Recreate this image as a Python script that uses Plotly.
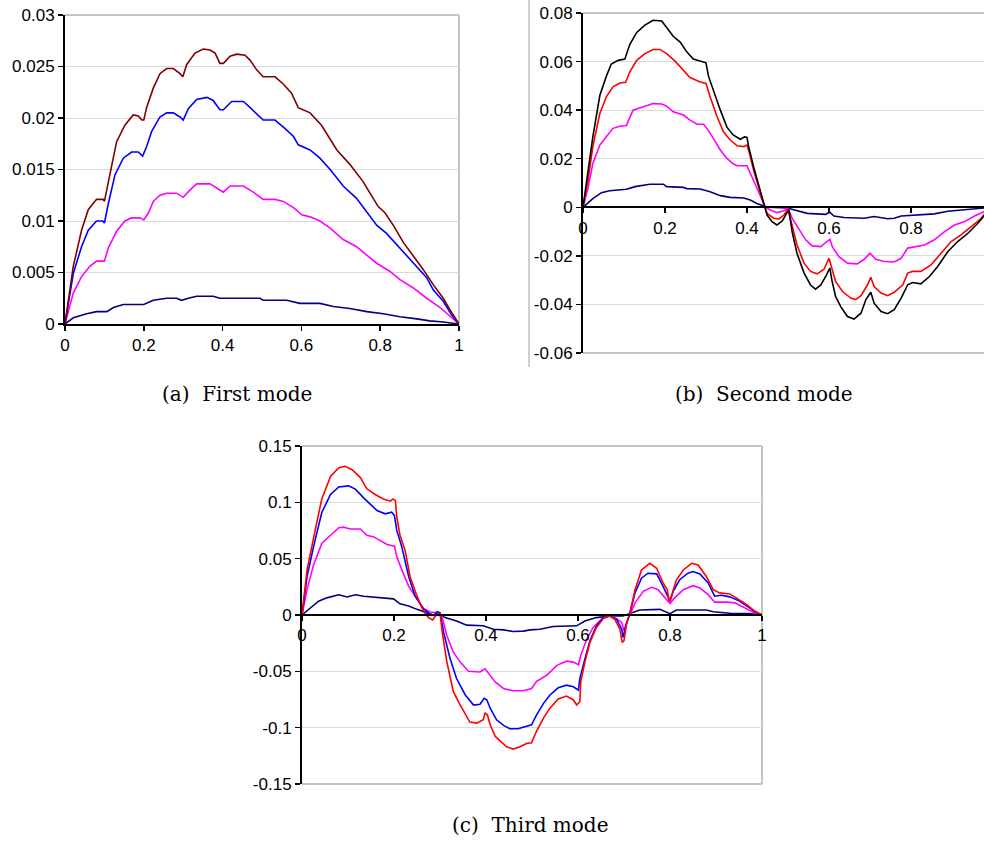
import plotly.graph_objects as go

# ---------------- Panel (a): First mode ----------------
a_dr_x = [0, 0.021, 0.042, 0.059, 0.080, 0.097, 0.100, 0.114, 0.131, 0.152, 0.173, 0.186, 0.195, 0.200, 0.207, 0.224, 0.241, 0.258, 0.275, 0.292, 0.299, 0.309, 0.330, 0.351, 0.368, 0.381, 0.393, 0.402, 0.419, 0.436, 0.457, 0.470, 0.486, 0.503, 0.533, 0.554, 0.575, 0.592, 0.622, 0.651, 0.673, 0.690, 0.723, 0.757, 0.774, 0.795, 0.812, 0.833, 0.859, 0.884, 0.909, 0.935, 0.960, 0.977, 1.0]
a_dr_y = [0, 0.0056, 0.0091, 0.0111, 0.0121, 0.0121, 0.0119, 0.0146, 0.0177, 0.0193, 0.0203, 0.0202, 0.0198, 0.0198, 0.0210, 0.0229, 0.0243, 0.0248, 0.0248, 0.0243, 0.0240, 0.0252, 0.0263, 0.0267, 0.0266, 0.0263, 0.0253, 0.0253, 0.0260, 0.0262, 0.0261, 0.0256, 0.0247, 0.0240, 0.0240, 0.0233, 0.0224, 0.0210, 0.0205, 0.0193, 0.0180, 0.0169, 0.0155, 0.0138, 0.0127, 0.0114, 0.0108, 0.0096, 0.0079, 0.0066, 0.0053, 0.0038, 0.0025, 0.0014, 0]

a_bl_x = [0, 0.021, 0.042, 0.059, 0.080, 0.096, 0.100, 0.110, 0.127, 0.148, 0.169, 0.186, 0.197, 0.207, 0.220, 0.241, 0.258, 0.275, 0.292, 0.300, 0.313, 0.334, 0.360, 0.376, 0.393, 0.402, 0.423, 0.453, 0.470, 0.503, 0.533, 0.558, 0.580, 0.592, 0.622, 0.647, 0.673, 0.706, 0.740, 0.766, 0.791, 0.816, 0.850, 0.884, 0.918, 0.935, 0.960, 0.981, 1.0]
a_bl_y = [0, 0.0049, 0.0075, 0.0091, 0.0100, 0.0100, 0.0098, 0.0117, 0.0145, 0.0161, 0.0167, 0.0167, 0.0163, 0.0172, 0.0187, 0.0201, 0.0205, 0.0205, 0.0201, 0.0198, 0.0209, 0.0218, 0.0220, 0.0217, 0.0208, 0.0208, 0.0216, 0.0216, 0.0210, 0.0198, 0.0198, 0.0190, 0.0182, 0.0174, 0.0169, 0.0161, 0.0150, 0.0134, 0.0122, 0.0109, 0.0096, 0.0088, 0.0074, 0.0059, 0.0045, 0.0033, 0.0022, 0.0009, 0]

a_mg_x = [0, 0.021, 0.042, 0.063, 0.080, 0.100, 0.110, 0.131, 0.152, 0.169, 0.190, 0.200, 0.212, 0.224, 0.241, 0.258, 0.283, 0.300, 0.317, 0.334, 0.368, 0.385, 0.402, 0.419, 0.453, 0.478, 0.503, 0.533, 0.554, 0.580, 0.601, 0.622, 0.647, 0.673, 0.706, 0.740, 0.766, 0.791, 0.825, 0.850, 0.884, 0.918, 0.952, 0.973, 1.0]
a_mg_y = [0, 0.0030, 0.0046, 0.0056, 0.0061, 0.0061, 0.0074, 0.0090, 0.0100, 0.0103, 0.0103, 0.0101, 0.0108, 0.0119, 0.0125, 0.0127, 0.0127, 0.0123, 0.0130, 0.0136, 0.0136, 0.0132, 0.0128, 0.0134, 0.0134, 0.0128, 0.0121, 0.0121, 0.0119, 0.0113, 0.0106, 0.0104, 0.0100, 0.0093, 0.0082, 0.0075, 0.0067, 0.0059, 0.0051, 0.0043, 0.0035, 0.0025, 0.0016, 0.0009, 0]

a_nv_x = [0, 0.021, 0.055, 0.080, 0.106, 0.123, 0.148, 0.200, 0.224, 0.258, 0.283, 0.296, 0.313, 0.334, 0.376, 0.393, 0.495, 0.503, 0.563, 0.596, 0.647, 0.681, 0.723, 0.766, 0.808, 0.850, 0.893, 0.926, 0.960, 1.0]
a_nv_y = [0, 0.0006, 0.0010, 0.0012, 0.0012, 0.0016, 0.0019, 0.0019, 0.0023, 0.0025, 0.0025, 0.0023, 0.0025, 0.0027, 0.0027, 0.0025, 0.0025, 0.0023, 0.0023, 0.0020, 0.0020, 0.0017, 0.0015, 0.0012, 0.0010, 0.0007, 0.0005, 0.0003, 0.0002, 0]

# ---------------- Panel (b): Second mode ----------------
b_bk_x = [0, 0.012, 0.024, 0.041, 0.057, 0.069, 0.086, 0.102, 0.114, 0.131, 0.151, 0.171, 0.192, 0.204, 0.220, 0.237, 0.253, 0.269, 0.290, 0.300, 0.306, 0.318, 0.335, 0.351, 0.367, 0.384, 0.394, 0.400, 0.404, 0.416, 0.429, 0.441, 0.449, 0.461, 0.473, 0.486, 0.498, 0.502, 0.510, 0.522, 0.539, 0.555, 0.567, 0.580, 0.592, 0.602, 0.607, 0.616, 0.629, 0.645, 0.661, 0.678, 0.690, 0.702, 0.710, 0.727, 0.743, 0.759, 0.776, 0.792, 0.804, 0.824, 0.845, 0.865, 0.890, 0.914, 0.939, 0.963, 0.981, 1.0]
b_bk_y = [0, 0.014, 0.029, 0.046, 0.054, 0.059, 0.0605, 0.061, 0.067, 0.072, 0.075, 0.077, 0.0767, 0.074, 0.0704, 0.068, 0.064, 0.061, 0.060, 0.0595, 0.054, 0.048, 0.040, 0.033, 0.0297, 0.028, 0.029, 0.0288, 0.025, 0.0167, 0.0085, 0.001, -0.0032, -0.0059, -0.0073, -0.0056, -0.0018, -0.001, -0.010, -0.019, -0.027, -0.032, -0.0337, -0.032, -0.0285, -0.025, -0.030, -0.0367, -0.041, -0.045, -0.046, -0.0436, -0.038, -0.035, -0.0395, -0.0429, -0.0438, -0.0422, -0.0374, -0.0319, -0.031, -0.0315, -0.0285, -0.0244, -0.0182, -0.0141, -0.0107, -0.0066, -0.003, 0]

b_rd_x = [0, 0.012, 0.024, 0.041, 0.057, 0.073, 0.090, 0.104, 0.114, 0.131, 0.151, 0.171, 0.188, 0.204, 0.224, 0.245, 0.261, 0.286, 0.300, 0.310, 0.327, 0.343, 0.359, 0.376, 0.392, 0.400, 0.406, 0.416, 0.429, 0.441, 0.449, 0.465, 0.478, 0.490, 0.500, 0.510, 0.522, 0.539, 0.555, 0.571, 0.588, 0.600, 0.606, 0.616, 0.633, 0.653, 0.665, 0.678, 0.694, 0.702, 0.710, 0.727, 0.743, 0.759, 0.780, 0.792, 0.804, 0.824, 0.849, 0.873, 0.898, 0.922, 0.947, 0.967, 0.981, 1.0]
b_rd_y = [0, 0.011, 0.025, 0.0386, 0.0455, 0.0496, 0.0512, 0.0515, 0.0557, 0.0605, 0.0633, 0.065, 0.065, 0.0633, 0.0603, 0.0564, 0.0534, 0.0516, 0.051, 0.0455, 0.0373, 0.031, 0.0277, 0.0253, 0.025, 0.0256, 0.0222, 0.0153, 0.0078, 0.001, -0.0025, -0.0045, -0.0048, -0.0032, -0.0008, -0.008, -0.0155, -0.023, -0.0264, -0.0274, -0.0255, -0.021, -0.025, -0.0305, -0.0347, -0.0374, -0.038, -0.0364, -0.0319, -0.0288, -0.0326, -0.0353, -0.0364, -0.035, -0.0319, -0.0271, -0.0264, -0.0264, -0.0237, -0.0189, -0.0141, -0.0114, -0.0079, -0.0052, -0.0025, 0]

b_mg_x = [0, 0.012, 0.024, 0.041, 0.057, 0.073, 0.090, 0.106, 0.122, 0.147, 0.171, 0.192, 0.204, 0.220, 0.245, 0.261, 0.278, 0.294, 0.302, 0.318, 0.335, 0.351, 0.367, 0.376, 0.400, 0.408, 0.420, 0.433, 0.445, 0.457, 0.473, 0.490, 0.500, 0.510, 0.527, 0.543, 0.559, 0.580, 0.592, 0.602, 0.608, 0.624, 0.645, 0.669, 0.686, 0.700, 0.714, 0.735, 0.759, 0.776, 0.792, 0.808, 0.833, 0.857, 0.882, 0.906, 0.931, 0.955, 0.981, 1.0]
b_mg_y = [0, 0.0078, 0.018, 0.0256, 0.029, 0.0325, 0.0334, 0.0337, 0.040, 0.0414, 0.0427, 0.0425, 0.0416, 0.0393, 0.038, 0.0359, 0.0342, 0.0342, 0.0325, 0.0284, 0.0236, 0.0201, 0.0178, 0.0171, 0.0171, 0.014, 0.0092, 0.0044, 0.0, -0.0011, -0.0022, -0.0014, -0.0003, -0.0045, -0.0093, -0.0134, -0.0159, -0.0162, -0.0145, -0.0132, -0.0162, -0.0203, -0.023, -0.0233, -0.0214, -0.0189, -0.0214, -0.0223, -0.0225, -0.021, -0.0168, -0.0164, -0.0155, -0.0134, -0.010, -0.0073, -0.0059, -0.0036, -0.0014, 0]

b_nv_x = [0, 0.012, 0.024, 0.045, 0.065, 0.106, 0.127, 0.163, 0.196, 0.204, 0.245, 0.253, 0.286, 0.310, 0.335, 0.359, 0.392, 0.408, 0.424, 0.441, 0.453, 0.498, 0.522, 0.547, 0.592, 0.602, 0.612, 0.637, 0.686, 0.710, 0.743, 0.759, 0.776, 0.824, 0.857, 0.890, 0.931, 0.981, 1.0]
b_nv_y = [0, 0.0019, 0.0036, 0.006, 0.0068, 0.0074, 0.0085, 0.0095, 0.0095, 0.0085, 0.0082, 0.0077, 0.0075, 0.0064, 0.0048, 0.0041, 0.0038, 0.003, 0.0016, 0.0005, 0.0, -0.0003, -0.0015, -0.0025, -0.0029, -0.002, -0.0036, -0.0042, -0.0045, -0.0038, -0.0047, -0.0045, -0.0036, -0.0032, -0.0027, -0.0016, -0.0011, -0.0003, 0]

# ---------------- Panel (c): Third mode ----------------
c_rd_x = [0, 0.011, 0.025, 0.043, 0.062, 0.080, 0.094, 0.109, 0.127, 0.141, 0.159, 0.177, 0.192, 0.198, 0.203, 0.206, 0.213, 0.224, 0.235, 0.250, 0.264, 0.275, 0.284, 0.293, 0.300, 0.306, 0.315, 0.329, 0.344, 0.365, 0.380, 0.394, 0.398, 0.403, 0.409, 0.420, 0.431, 0.445, 0.459, 0.474, 0.488, 0.499, 0.510, 0.525, 0.539, 0.557, 0.575, 0.590, 0.597, 0.604, 0.606, 0.615, 0.626, 0.640, 0.655, 0.669, 0.680, 0.691, 0.696, 0.700, 0.706, 0.713, 0.724, 0.738, 0.756, 0.771, 0.785, 0.794, 0.798, 0.803, 0.814, 0.829, 0.847, 0.861, 0.879, 0.894, 0.908, 0.930, 0.944, 0.966, 0.984, 1.0]
c_rd_y = [0, 0.040, 0.068, 0.103, 0.123, 0.1307, 0.132, 0.129, 0.122, 0.112, 0.107, 0.103, 0.101, 0.103, 0.1015, 0.087, 0.0708, 0.0576, 0.034, 0.0167, 0.0035, -0.0023, -0.0044, 0.0006, 0.0015, -0.0184, -0.0418, -0.068, -0.080, -0.095, -0.096, -0.093, -0.087, -0.0886, -0.0974, -0.1076, -0.112, -0.117, -0.119, -0.117, -0.114, -0.1135, -0.103, -0.0915, -0.0827, -0.0746, -0.072, -0.0754, -0.0798, -0.077, -0.059, -0.0418, -0.0243, -0.011, -0.0032, -0.0009, -0.0038, -0.0126, -0.0243, -0.0228, -0.0067, 0.002, 0.0225, 0.040, 0.0459, 0.0415, 0.0284, 0.0225, 0.0123, 0.0167, 0.0313, 0.040, 0.0459, 0.0444, 0.0342, 0.0225, 0.0196, 0.0187, 0.0152, 0.0094, 0.0035, 0]

c_bl_x = [0, 0.011, 0.025, 0.043, 0.062, 0.080, 0.101, 0.116, 0.134, 0.148, 0.163, 0.181, 0.195, 0.201, 0.206, 0.217, 0.232, 0.246, 0.264, 0.279, 0.286, 0.294, 0.300, 0.308, 0.322, 0.336, 0.355, 0.373, 0.387, 0.396, 0.402, 0.409, 0.423, 0.438, 0.452, 0.470, 0.485, 0.499, 0.510, 0.525, 0.539, 0.557, 0.575, 0.590, 0.601, 0.604, 0.615, 0.626, 0.640, 0.655, 0.669, 0.684, 0.695, 0.698, 0.704, 0.713, 0.724, 0.738, 0.752, 0.771, 0.785, 0.796, 0.800, 0.807, 0.821, 0.839, 0.850, 0.865, 0.883, 0.897, 0.912, 0.930, 0.951, 0.973, 0.988, 1.0]
c_bl_y = [0, 0.034, 0.0605, 0.091, 0.107, 0.1137, 0.1146, 0.1117, 0.104, 0.0985, 0.0927, 0.0898, 0.0912, 0.0883, 0.0751, 0.0605, 0.034, 0.0167, 0.0056, 0.0006, -0.0003, 0.0029, 0.002, -0.0155, -0.0389, -0.0564, -0.071, -0.080, -0.0792, -0.074, -0.0754, -0.0827, -0.093, -0.098, -0.101, -0.101, -0.0988, -0.0974, -0.0886, -0.0784, -0.071, -0.0646, -0.0623, -0.0637, -0.0667, -0.0564, -0.0389, -0.0228, -0.0096, -0.0023, -0.0009, -0.0038, -0.0126, -0.0199, -0.0096, 0.002, 0.0196, 0.0327, 0.0371, 0.0365, 0.0254, 0.0167, 0.0123, 0.021, 0.0313, 0.0371, 0.0386, 0.0365, 0.0284, 0.0167, 0.0175, 0.0161, 0.0123, 0.0064, 0.002, 0]

c_mg_x = [0, 0.011, 0.025, 0.043, 0.062, 0.080, 0.090, 0.105, 0.127, 0.141, 0.156, 0.170, 0.185, 0.201, 0.206, 0.217, 0.232, 0.246, 0.264, 0.279, 0.293, 0.304, 0.315, 0.329, 0.344, 0.362, 0.387, 0.398, 0.405, 0.420, 0.438, 0.459, 0.481, 0.499, 0.510, 0.532, 0.554, 0.575, 0.590, 0.601, 0.606, 0.619, 0.633, 0.655, 0.669, 0.684, 0.695, 0.700, 0.706, 0.713, 0.724, 0.742, 0.760, 0.774, 0.789, 0.800, 0.810, 0.829, 0.850, 0.865, 0.883, 0.897, 0.923, 0.941, 0.962, 0.980, 1.0]
c_mg_y = [0, 0.0225, 0.0444, 0.0635, 0.0708, 0.0775, 0.078, 0.0763, 0.0763, 0.0708, 0.0693, 0.0664, 0.0626, 0.0611, 0.0518, 0.040, 0.0254, 0.0167, 0.0056, 0.0026, 0.002, -0.0009, -0.0184, -0.033, -0.0418, -0.050, -0.0506, -0.0477, -0.0512, -0.0594, -0.0652, -0.0673, -0.0673, -0.0652, -0.0588, -0.0535, -0.0447, -0.041, -0.0418, -0.0442, -0.036, -0.0213, -0.011, -0.0023, -0.0009, -0.0032, -0.0067, -0.014, -0.0067, 0.0006, 0.0108, 0.021, 0.0246, 0.0225, 0.0152, 0.0102, 0.0152, 0.0225, 0.026, 0.024, 0.0181, 0.0114, 0.0114, 0.0108, 0.0064, 0.0026, 0]

c_nv_x = [0, 0.018, 0.036, 0.054, 0.072, 0.080, 0.098, 0.116, 0.134, 0.170, 0.199, 0.213, 0.232, 0.250, 0.271, 0.286, 0.297, 0.311, 0.336, 0.358, 0.394, 0.416, 0.438, 0.459, 0.481, 0.496, 0.517, 0.546, 0.597, 0.615, 0.640, 0.669, 0.698, 0.713, 0.734, 0.778, 0.789, 0.800, 0.814, 0.879, 0.894, 0.930, 0.973, 1.0]
c_nv_y = [0, 0.0064, 0.0123, 0.0152, 0.0167, 0.018, 0.016, 0.018, 0.0167, 0.0152, 0.0143, 0.0099, 0.0079, 0.005, 0.0015, -0.0003, 0.0015, -0.0023, -0.0053, -0.009, -0.0096, -0.0126, -0.0132, -0.0146, -0.0143, -0.0132, -0.0126, -0.0102, -0.0096, -0.0053, -0.0023, -0.0009, -0.0009, 0.0012, 0.0044, 0.005, 0.0029, 0.0012, 0.0044, 0.0044, 0.0029, 0.0015, 0.0012, 0]

# tick labels
a_yticks = [0, 0.005, 0.01, 0.015, 0.02, 0.025, 0.03]
a_yticktext = ["0", "0.005", "0.01", "0.015", "0.02", "0.025", "0.03"]
b_yticks = [-0.06, -0.04, -0.02, 0, 0.02, 0.04, 0.06, 0.08]
b_yticktext = ["-0.06", "-0.04", "-0.02", "0", "0.02", "0.04", "0.06", "0.08"]
c_yticks = [-0.15, -0.1, -0.05, 0, 0.05, 0.1, 0.15]
c_yticktext = ["-0.15", "-0.1", "-0.05", "0", "0.05", "0.1", "0.15"]
x_ticks = [0, 0.2, 0.4, 0.6, 0.8, 1]
x_ticktext = ["0", "0.2", "0.4", "0.6", "0.8", "1"]
captions = ["(a)  First mode", "(b)  Second mode", "(c)  Third mode"]

DARKRED, BLUE, MAGENTA, NAVY, BLACK, RED = "#800000", "#0000FF", "#FF00FF", "#000080", "#000000", "#FF0000"

W, H = 984, 842
fig = go.Figure()

def add(x, y, color, ax):
    fig.add_trace(go.Scatter(x=x, y=y, mode="lines", line=dict(color=color, width=1.6),
                             xaxis="x" + ax, yaxis="y" + ax, showlegend=False, hoverinfo="skip"))

add(a_nv_x, a_nv_y, NAVY, "")
add(a_mg_x, a_mg_y, MAGENTA, "")
add(a_bl_x, a_bl_y, BLUE, "")
add(a_dr_x, a_dr_y, DARKRED, "")

add(b_nv_x, b_nv_y, NAVY, "2")
add(b_mg_x, b_mg_y, MAGENTA, "2")
add(b_rd_x, b_rd_y, RED, "2")
add(b_bk_x, b_bk_y, BLACK, "2")

add(c_nv_x, c_nv_y, NAVY, "3")
add(c_mg_x, c_mg_y, MAGENTA, "3")
add(c_bl_x, c_bl_y, BLUE, "3")
add(c_rd_x, c_rd_y, RED, "3")

def px_x(p):
    return p / W

def px_y(p):
    return (H - p) / H

tickfont = dict(family="Liberation Sans, Arial, sans-serif", size=17, color="black")
GRID = "#dadada"

# panel geometry (pixels)
a_dom_x = [px_x(65), px_x(459)]
a_dom_y = [px_y(324), px_y(15)]
b_dom_x = [px_x(583), 1.0]
b_dom_y = [px_y(353), px_y(13)]
c_dom_x = [px_x(302), px_x(762)]
c_dom_y = [px_y(784), px_y(446)]

a_yr = [0, 0.03]
b_yr = [-0.06, 0.08]
c_yr = [-0.15, 0.15]
b_xr = [0, (984 - 583) / 410]

def zero_pos(dom, rng):
    return dom[0] + (0 - rng[0]) / (rng[1] - rng[0]) * (dom[1] - dom[0])

common_y = dict(showline=True, linecolor="black", linewidth=2, ticks="outside", ticklen=5,
                tickwidth=1.5, tickcolor="black", showgrid=True, gridcolor=GRID, gridwidth=1,
                zeroline=False, tickfont=tickfont, fixedrange=True, automargin=False)
common_x = dict(showline=True, linecolor="black", linewidth=2, ticks="outside", ticklen=5,
                tickwidth=1.5, tickcolor="black", showgrid=False, zeroline=False,
                tickfont=tickfont, tickvals=x_ticks, ticktext=x_ticktext, fixedrange=True,
                automargin=False)

fig.update_layout(
    width=W, height=H, margin=dict(l=0, r=0, t=0, b=0, pad=0, autoexpand=False),
    paper_bgcolor="white", plot_bgcolor="white", showlegend=False,
    xaxis=dict(domain=a_dom_x, range=[0, 1], anchor="y", **common_x),
    yaxis=dict(domain=a_dom_y, range=a_yr, anchor="x", tickvals=a_yticks, ticktext=a_yticktext, **common_y),
    xaxis2=dict(domain=b_dom_x, range=b_xr, anchor="free", position=zero_pos(b_dom_y, b_yr), **common_x),
    yaxis2=dict(domain=b_dom_y, range=b_yr, anchor="x2", tickvals=b_yticks, ticktext=b_yticktext, **common_y),
    xaxis3=dict(domain=c_dom_x, range=[0, 1], anchor="free", position=zero_pos(c_dom_y, c_yr), **common_x),
    yaxis3=dict(domain=c_dom_y, range=c_yr, anchor="x3", tickvals=c_yticks, ticktext=c_yticktext, **common_y),
)

# plot-area borders (light gray, Excel style)
BORDER = "#c4c4c4"
for ax, sides in (("", "tr"), ("2", "tb"), ("3", "trb")):
    xr, yr = "x%s domain" % ax, "y%s domain" % ax
    if "t" in sides:
        fig.add_shape(type="line", xref=xr, yref=yr, x0=0, x1=1, y0=1, y1=1, line=dict(color=BORDER, width=2), layer="below")
    if "b" in sides:
        fig.add_shape(type="line", xref=xr, yref=yr, x0=0, x1=1, y0=0, y1=0, line=dict(color=BORDER, width=2), layer="below")
    if "r" in sides:
        fig.add_shape(type="line", xref=xr, yref=yr, x0=1, x1=1, y0=0, y1=1, line=dict(color=BORDER, width=2), layer="below")

# left border of the second chart's frame
fig.add_shape(type="line", xref="paper", yref="paper", x0=px_x(529), x1=px_x(529), y0=px_y(367), y1=1,
              line=dict(color="#a0a0a0", width=1))

capfont = dict(family="DejaVu Serif, serif", size=20, color="black")
for text, cx, cy in zip(captions, [236.5, 764, 530], [394, 394, 825]):
    fig.add_annotation(text=text, xref="paper", yref="paper", x=px_x(cx), y=px_y(cy),
                       xanchor="center", yanchor="middle", showarrow=False, font=capfont)

fig.write_html("out.html", config={"displayModeBar": False, "staticPlot": True},
               post_script="document.body.style.margin='0px';document.body.style.padding='0px';document.body.style.overflow='hidden';")
